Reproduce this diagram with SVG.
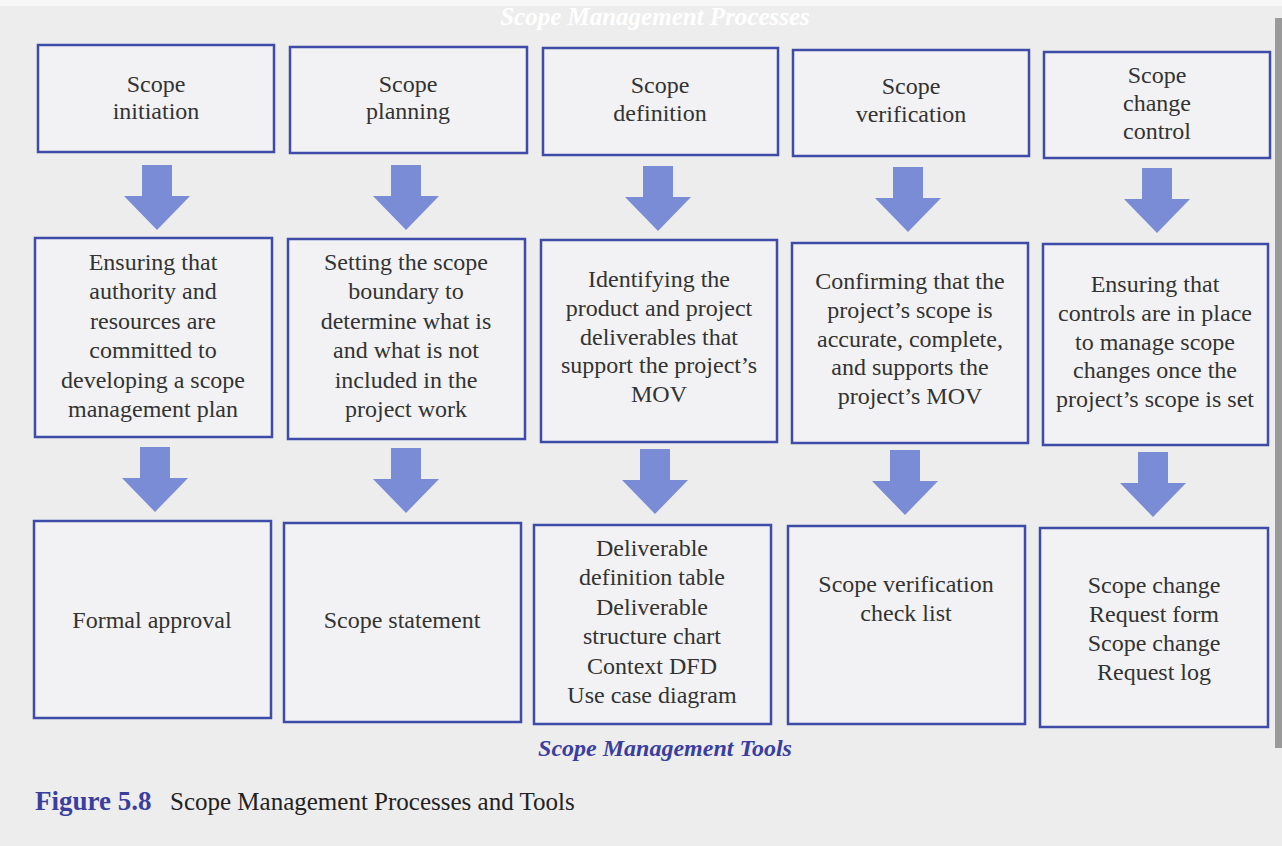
<svg xmlns="http://www.w3.org/2000/svg" width="1282" height="846" viewBox="0 0 1282 846">
<defs>
<style>
.bg{fill:#ededed}
.box{fill:#f2f2f4;stroke:#3f4ba8;stroke-width:2.5}
.t{font-family:"Liberation Serif","Times New Roman",serif;font-size:24px;fill:#333;text-anchor:middle}
.arr{fill:#7b8cd7}
.cap{font-family:"Liberation Serif","Times New Roman",serif}
</style>
<path id="a" d="M-15,0 L15,0 L15,31 L33,31 L0,65 L-33,31 L-15,31 Z"/>
</defs>
<rect class="bg" x="0" y="0" width="1282" height="846"/>
<rect x="0" y="0" width="1282" height="6" fill="#f7f7f7"/>
<rect x="1275" y="18" width="7" height="730" fill="#9a9a9a"/>
<text class="cap" x="655" y="25" font-size="25" font-weight="bold" font-style="italic" fill="#ffffff" text-anchor="middle">Scope Management Processes</text>

<g id="connectors" class="arr">
<use href="#a" x="157" y="165"/>
<use href="#a" x="406" y="165"/>
<use href="#a" x="658" y="166"/>
<use href="#a" x="908" y="167"/>
<use href="#a" x="1157" y="168"/>
<use href="#a" x="155" y="447"/>
<use href="#a" x="406" y="448"/>
<use href="#a" x="655" y="449"/>
<use href="#a" x="905" y="450"/>
<use href="#a" x="1153" y="452"/>
</g>

<g id="scope-initiation"><rect class="box" x="38" y="45" width="236" height="107"/>
<text class="t"><tspan x="156" y="92">Scope</tspan><tspan x="156" y="119">initiation</tspan></text></g>
<g id="scope-planning"><rect class="box" x="290" y="47" width="237" height="106"/>
<text class="t"><tspan x="408" y="92">Scope</tspan><tspan x="408" y="119">planning</tspan></text></g>
<g id="scope-definition"><rect class="box" x="543" y="48" width="235" height="107"/>
<text class="t"><tspan x="660" y="93">Scope</tspan><tspan x="660" y="121">definition</tspan></text></g>
<g id="scope-verification"><rect class="box" x="793" y="50" width="236" height="106"/>
<text class="t"><tspan x="911" y="94">Scope</tspan><tspan x="911" y="122">verification</tspan></text></g>
<g id="scope-change-control"><rect class="box" x="1044" y="52" width="226" height="106"/>
<text class="t"><tspan x="1157" y="83">Scope</tspan><tspan x="1157" y="111">change</tspan><tspan x="1157" y="139">control</tspan></text></g>

<g id="initiation-desc"><rect class="box" x="35" y="238" width="237" height="199"/>
<text class="t"><tspan x="153" y="270">Ensuring that</tspan><tspan x="153" y="299.4">authority and</tspan><tspan x="153" y="328.8">resources are</tspan><tspan x="153" y="358.2">committed to</tspan><tspan x="153" y="387.6">developing a scope</tspan><tspan x="153" y="417">management plan</tspan></text></g>
<g id="planning-desc"><rect class="box" x="288" y="239" width="237" height="200"/>
<text class="t"><tspan x="406" y="270">Setting the scope</tspan><tspan x="406" y="299.4">boundary to</tspan><tspan x="406" y="328.8">determine what is</tspan><tspan x="406" y="358.2">and what is not</tspan><tspan x="406" y="387.6">included in the</tspan><tspan x="406" y="417">project work</tspan></text></g>
<g id="definition-desc"><rect class="box" x="541" y="240" width="236" height="202"/>
<text class="t"><tspan x="659" y="287">Identifying the</tspan><tspan x="659" y="315.8">product and project</tspan><tspan x="659" y="344.6">deliverables that</tspan><tspan x="659" y="373.4">support the project’s</tspan><tspan x="659" y="402">MOV</tspan></text></g>
<g id="verification-desc"><rect class="box" x="792" y="243" width="236" height="200"/>
<text class="t"><tspan x="910" y="289">Confirming that the</tspan><tspan x="910" y="317.8">project’s scope is</tspan><tspan x="910" y="346.6">accurate, complete,</tspan><tspan x="910" y="375.4">and supports the</tspan><tspan x="910" y="404">project’s MOV</tspan></text></g>
<g id="change-control-desc"><rect class="box" x="1043" y="244" width="225" height="201"/>
<text class="t"><tspan x="1155" y="292">Ensuring that</tspan><tspan x="1155" y="320.8">controls are in place</tspan><tspan x="1155" y="349.6">to manage scope</tspan><tspan x="1155" y="378.4">changes once the</tspan><tspan x="1155" y="407">project’s scope is set</tspan></text></g>

<g id="formal-approval"><rect class="box" x="34" y="521" width="237" height="197"/>
<text class="t" x="152" y="628">Formal approval</text></g>
<g id="scope-statement"><rect class="box" x="284" y="523" width="237" height="199"/>
<text class="t" x="402" y="628">Scope statement</text></g>
<g id="definition-tools"><rect class="box" x="534" y="525" width="237" height="199"/>
<text class="t"><tspan x="652" y="556">Deliverable</tspan><tspan x="652" y="585.4">definition table</tspan><tspan x="652" y="614.8">Deliverable</tspan><tspan x="652" y="644.2">structure chart</tspan><tspan x="652" y="673.6">Context DFD</tspan><tspan x="652" y="703">Use case diagram</tspan></text></g>
<g id="verification-checklist"><rect class="box" x="788" y="526" width="237" height="198"/>
<text class="t"><tspan x="906" y="592">Scope verification</tspan><tspan x="906" y="621">check list</tspan></text></g>
<g id="change-request"><rect class="box" x="1040" y="528" width="228" height="199"/>
<text class="t"><tspan x="1154" y="593">Scope change</tspan><tspan x="1154" y="622">Request form</tspan><tspan x="1154" y="651">Scope change</tspan><tspan x="1154" y="680">Request log</tspan></text></g>

<text class="cap" x="665" y="756" font-size="24" font-weight="bold" font-style="italic" fill="#3a3f9e" text-anchor="middle">Scope Management Tools</text>
<text class="cap" x="35" y="810" font-size="27" font-weight="bold" fill="#3a3f9e">Figure 5.8</text>
<text class="cap" x="170" y="810" font-size="25" fill="#222">Scope Management Processes and Tools</text>
</svg>
